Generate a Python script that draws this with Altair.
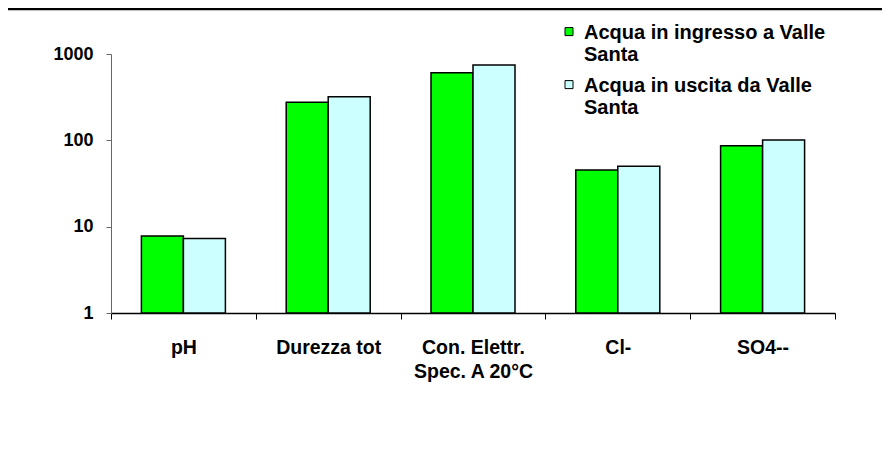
import altair as alt
import pandas as pd

categories = ["pH", "Durezza tot", "Con. Elettr. Spec. A 20°C", "Cl-", "SO4--"]
series = ["Acqua in ingresso a Valle Santa", "Acqua in uscita da Valle Santa"]
ingresso = [7.8, 276, 608, 45.3, 86.7]
uscita = [7.3, 320, 746, 50, 101]
colors = ["#00FF00", "#CCFFFF"]

rows = []
for c, a, b in zip(categories, ingresso, uscita):
    rows.append({"cat": c, "serie": series[0], "val": a})
    rows.append({"cat": c, "serie": series[1], "val": b})
df = pd.DataFrame(rows)

FONT = "Liberation Sans"

bars = alt.Chart(df).mark_bar(stroke="black", strokeWidth=1.5).encode(
    x=alt.X("cat:N", sort=categories, title=None,
            scale=alt.Scale(paddingInner=0, paddingOuter=0),
            axis=alt.Axis(labelAngle=0, tickBand="extent", tickSize=6,
                          domainColor="black", tickColor="black", domainWidth=1.5,
                          labelFont=FONT, labelFontSize=19.5, labelFontWeight="bold",
                          labelColor="black", labelPadding=19, labelBaseline="top",
                          labelLineHeight=24, labelLimit=300,
                          labelExpr="split(replace(datum.label, 'Elettr. ', 'Elettr.|'), '|')")),
    xOffset=alt.XOffset("serie:N", sort=series,
                        scale=alt.Scale(paddingInner=0, paddingOuter=0.7238)),
    y=alt.Y("val:Q", title=None, stack=None,
            scale=alt.Scale(type="log", domain=[1, 1000]),
            axis=alt.Axis(values=[1, 10, 100, 1000], format="d", grid=False,
                          tickSize=5, domainColor="#666", tickColor="#666",
                          labelFont=FONT, labelFontSize=18, labelFontWeight="bold",
                          labelColor="black", labelPadding=13)),
    color=alt.Color("serie:N", sort=series, title=None,
                    scale=alt.Scale(domain=series, range=colors),
                    legend=alt.Legend(orient="none", legendX=448, legendY=-41,
                                      symbolType="M-1,1.15H1V3.15H-1Z", symbolSize=64,
                                      symbolStrokeColor="black", symbolStrokeWidth=1,
                                      labelFont=FONT, labelFontSize=20,
                                      labelFontWeight="bold", labelColor="black",
                                      labelOffset=5, labelBaseline="top",
                                      labelLimit=400, padding=0, rowPadding=1,
                                      labelExpr="[replace(datum.label, ' Santa', ''), 'Santa']")),
)

topline = alt.Chart(alt.Data(values=[{}])).mark_rule(color="black", strokeWidth=2.5).encode(
    x=alt.value(-110), x2=alt.value(900), y=alt.value(-45)
)

chart = alt.layer(bars, topline).properties(
    width=724, height=259,
    autosize=alt.AutoSizeParams(type="none"),
    padding={"left": 103, "top": 46, "right": 47, "bottom": 140},
).configure_view(stroke=None)

chart.save("out.html", embed_options={"renderer": "svg", "actions": False})
